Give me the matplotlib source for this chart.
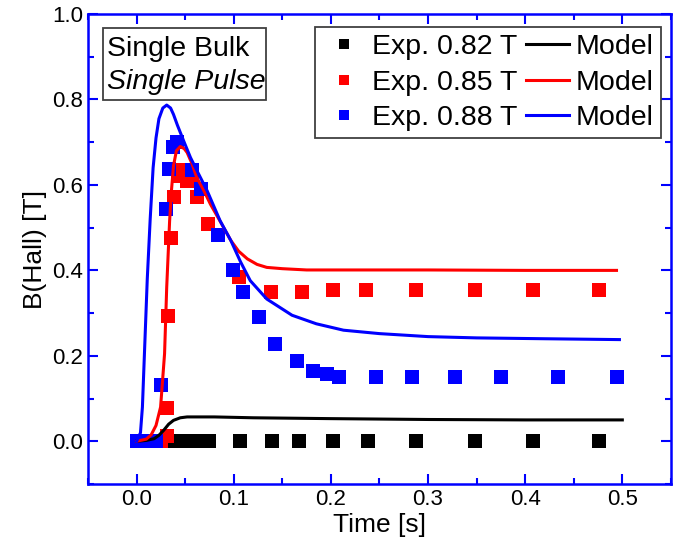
import numpy as np
import matplotlib
matplotlib.use("Agg")
import matplotlib.pyplot as plt
from matplotlib.patches import Rectangle
from matplotlib.ticker import MultipleLocator

plt.rcParams['font.family'] = ['Liberation Sans', 'DejaVu Sans']

t_082 = [0.0, 0.005, 0.01, 0.015, 0.02, 0.025, 0.03, 0.035, 0.04, 0.045, 0.05, 0.055,
         0.06, 0.065, 0.07, 0.075, 0.106, 0.139, 0.167, 0.202, 0.238, 0.288, 0.348, 0.408, 0.476]
b_082 = [0.0] * len(t_082)

t_085 = [0.0, 0.005, 0.01, 0.015, 0.02, 0.025, 0.031, 0.031, 0.032, 0.035, 0.038, 0.043,
         0.047, 0.052, 0.057, 0.062, 0.074, 0.105, 0.138, 0.170, 0.202, 0.236, 0.288,
         0.348, 0.408, 0.476]
b_085 = [0.0, 0.0, 0.0, 0.0, 0.0, 0.0, 0.012, 0.078, 0.293, 0.476, 0.571, 0.62,
         0.635, 0.61, 0.62, 0.571, 0.509, 0.384, 0.35, 0.35, 0.355, 0.355, 0.355,
         0.355, 0.355, 0.355]

t_088 = [0.0, 0.005, 0.01, 0.015, 0.02, 0.025, 0.030, 0.033, 0.037, 0.042, 0.057, 0.066,
         0.084, 0.099, 0.110, 0.126, 0.142, 0.165, 0.182, 0.196, 0.208, 0.246, 0.283,
         0.328, 0.375, 0.434, 0.494]
b_088 = [0.0, 0.0, 0.0, 0.0, 0.0, 0.131, 0.544, 0.637, 0.688, 0.70, 0.635, 0.59,
         0.483, 0.402, 0.349, 0.290, 0.228, 0.189, 0.164, 0.157, 0.150, 0.150, 0.150,
         0.150, 0.150, 0.150, 0.150]

## Model curves
tm_082 = [0.0, 0.01, 0.018, 0.023, 0.028, 0.033, 0.038, 0.045, 0.052, 0.065, 0.08,
          0.12, 0.2, 0.3, 0.4, 0.5]
bm_082 = [0.0, 0.002, 0.006, 0.014, 0.026, 0.040, 0.049, 0.055, 0.057, 0.057, 0.057,
          0.055, 0.053, 0.051, 0.050, 0.050]

tm_085 = [0.0, 0.01, 0.015, 0.02, 0.0247, 0.0288, 0.031, 0.034, 0.036, 0.038, 0.041,
          0.045, 0.049, 0.052, 0.057, 0.062, 0.069, 0.076, 0.086, 0.097, 0.105, 0.114,
          0.124, 0.134, 0.15, 0.175, 0.22, 0.3, 0.4, 0.494]
bm_085 = [0.0, 0.005, 0.015, 0.037, 0.08, 0.205, 0.36, 0.516, 0.59, 0.645, 0.68,
          0.69, 0.685, 0.676, 0.65, 0.617, 0.588, 0.555, 0.515, 0.47, 0.445, 0.427,
          0.414, 0.407, 0.404, 0.401, 0.401, 0.401, 0.400, 0.400]

tm_088 = [0.0, 0.004, 0.006, 0.008, 0.011, 0.014, 0.017, 0.020, 0.023, 0.027, 0.031,
          0.035, 0.038, 0.042, 0.049, 0.0555, 0.064, 0.0727, 0.086, 0.097, 0.107, 0.117,
          0.134, 0.16, 0.185, 0.213, 0.25, 0.3, 0.35, 0.42, 0.497]
bm_088 = [0.0, 0.02, 0.08, 0.2, 0.38, 0.52, 0.64, 0.71, 0.755, 0.78, 0.787,
          0.78, 0.765, 0.740, 0.70, 0.664, 0.625, 0.586, 0.516, 0.47, 0.42, 0.376,
          0.333, 0.295, 0.275, 0.26, 0.252, 0.245, 0.242, 0.24, 0.238]

colors = ['black', '#ff0000', '#0000ff']

fig = plt.figure(figsize=(6.77, 5.49), dpi=100)
ax = fig.add_axes([0.130, 0.1184, 0.861, 0.856])

h1, = ax.plot(t_082, b_082, 's', color=colors[0], ms=9.5, mew=0, label='Exp. 0.82 T')
h2, = ax.plot(t_085, b_085, 's', color=colors[1], ms=9.5, mew=0, label='Exp. 0.85 T')
h3, = ax.plot(t_088, b_088, 's', color=colors[2], ms=9.5, mew=0, label='Exp. 0.88 T')
l1, = ax.plot(tm_082, bm_082, '-', color=colors[0], lw=2.2, label='Model')
l2, = ax.plot(tm_085, bm_085, '-', color=colors[1], lw=2.2, label='Model')
l3, = ax.plot(tm_088, bm_088, '-', color=colors[2], lw=2.2, label='Model')

ax.set_xlim(-0.05, 0.55)
ax.set_ylim(-0.1, 1.0)
ax.xaxis.set_major_locator(MultipleLocator(0.1))
ax.xaxis.set_minor_locator(MultipleLocator(0.05))
ax.yaxis.set_major_locator(MultipleLocator(0.2))
ax.yaxis.set_minor_locator(MultipleLocator(0.1))
ax.tick_params(which='both', direction='in', top=True, right=True, color='blue',
               labelsize=16, width=1.5)
ax.tick_params(which='major', length=7)
ax.tick_params(which='minor', length=4)
for s in ax.spines.values():
    s.set_color('blue')
    s.set_linewidth(1.8)

ax.set_xlabel('Time [s]', fontsize=19, labelpad=2)
ax.set_ylabel('B(Hall) [T]', fontsize=19, labelpad=4)

leg = ax.legend([h1, h2, h3, l1, l2, l3],
                ['Exp. 0.82 T', 'Exp. 0.85 T', 'Exp. 0.88 T', 'Model', 'Model', 'Model'],
                ncol=2, loc='upper right', bbox_to_anchor=(0.983, 0.972),
                borderaxespad=0, fontsize=20.5, fancybox=False, framealpha=1,
                edgecolor='#404040', markerscale=0.7, handlelength=1.5,
                handletextpad=0.25, columnspacing=0.3, labelspacing=0.33,
                borderpad=0.25)
leg.get_frame().set_linewidth(1.3)

# text box in the upper left
ax.add_patch(Rectangle((0.026, 0.817), 0.279, 0.153, transform=ax.transAxes,
                       fill=False, edgecolor='#404040', lw=1.3, zorder=5))
ax.text(0.032, 0.926, 'Single Bulk', transform=ax.transAxes, fontsize=20.5,
        va='center', ha='left')
ax.text(0.032, 0.855, 'Single Pulse', transform=ax.transAxes, fontsize=20.5,
        va='center', ha='left', style='italic')

fig.savefig('out.png', dpi=100)
